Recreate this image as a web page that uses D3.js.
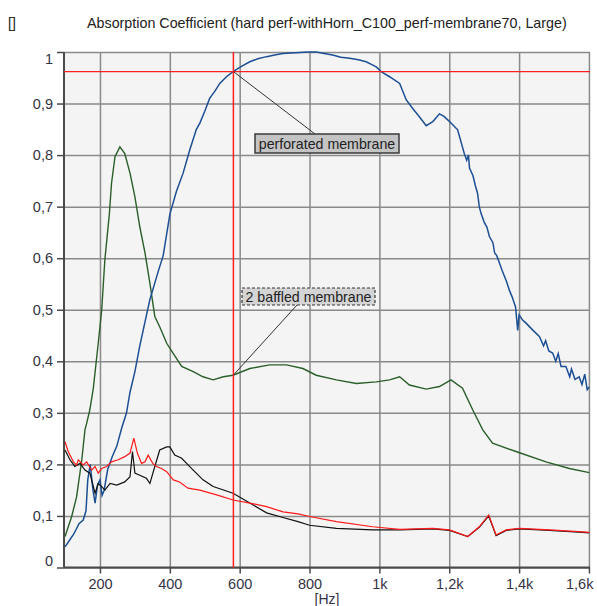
<!DOCTYPE html>
<html>
<head>
<meta charset="utf-8">
<script src="https://cdn.jsdelivr.net/npm/d3@7"></script>
<style>
  body { margin: 0; background: #fff; }
  text { font-family: "Liberation Sans", Arial, sans-serif; }
</style>
</head>
<body>
<script>
// ---- data ----
var xTicks = [200, 400, 600, 800, 1000, 1200, 1400, 1600];
var xTickLabels = ["200", "400", "600", "800", "1k", "1,2k", "1,4k", "1,6k"];
var yTicks = [0, 0.1, 0.2, 0.3, 0.4, 0.5, 0.6, 0.7, 0.8, 0.9, 1];
var yTickLabels = ["0", "0,1", "0,2", "0,3", "0,4", "0,5", "0,6", "0,7", "0,8", "0,9", "1"];

var cursorFreq = 582;
var cursorLevel = 0.962;

var perforated = [
  [100,0.04],[110,0.05],[125,0.065],[140,0.085],[152,0.092],[160,0.11],[165,0.17],
  [172,0.20],[180,0.15],[186,0.125],[193,0.16],[200,0.17],[206,0.14],[212,0.15],
  [222,0.19],[235,0.215],[248,0.235],[262,0.27],[276,0.30],[286,0.34],[300,0.38],
  [314,0.43],[330,0.48],[343,0.52],[367,0.575],[381,0.605],[400,0.685],[419,0.73],
  [438,0.765],[457,0.81],[476,0.85],[486,0.862],[500,0.885],[514,0.91],[530,0.925],
  [543,0.939],[562,0.952],[581,0.962],[605,0.972],[629,0.981],[652,0.987],[677,0.991],
  [700,0.994],[724,0.997],[748,0.998],[772,0.999],[795,1.0],[819,1.0],[842,0.997],
  [866,0.994],[890,0.99],[915,0.988],[940,0.985],[962,0.981],[980,0.975],[991,0.971],
  [1005,0.962],[1029,0.952],[1058,0.939],[1077,0.907],[1096,0.89],[1115,0.874],
  [1134,0.857],[1153,0.865],[1172,0.88],[1185,0.875],[1201,0.865],[1224,0.849],
  [1243,0.803],[1250,0.79],[1255,0.80],[1258,0.775],[1268,0.76],[1275,0.74],
  [1281,0.726],[1286,0.70],[1291,0.687],[1300,0.67],[1308,0.66],[1315,0.642],
  [1325,0.63],[1330,0.61],[1336,0.605],[1344,0.59],[1352,0.575],[1358,0.565],
  [1364,0.555],[1372,0.538],[1380,0.525],[1390,0.505],[1396,0.46],[1400,0.49],
  [1410,0.48],[1420,0.474],[1440,0.46],[1458,0.448],[1470,0.43],[1476,0.44],
  [1485,0.42],[1496,0.416],[1505,0.40],[1512,0.415],[1520,0.39],[1534,0.39],
  [1545,0.37],[1550,0.385],[1560,0.365],[1572,0.37],[1580,0.355],[1588,0.375],
  [1595,0.345],[1601,0.35]
];

var baffled = [
  [100,0.06],[119,0.099],[133,0.137],[148,0.209],[157,0.267],[162,0.28],[171,0.306],
  [181,0.348],[195,0.435],[205,0.5],[214,0.597],[227,0.687],[233,0.745],[243,0.797],
  [257,0.816],[271,0.803],[286,0.765],[300,0.719],[314,0.661],[329,0.61],[343,0.551],
  [357,0.487],[371,0.467],[391,0.435],[410,0.415],[434,0.39],[467,0.38],[495,0.37],
  [524,0.364],[553,0.37],[581,0.373],[629,0.386],[686,0.393],[734,0.393],[781,0.386],
  [819,0.373],[877,0.364],[934,0.357],[991,0.36],[1029,0.364],[1058,0.37],[1086,0.354],
  [1134,0.346],[1172,0.351],[1205,0.364],[1238,0.348],[1267,0.306],[1296,0.267],
  [1324,0.241],[1391,0.225],[1477,0.205],[1544,0.192],[1601,0.184]
];

var blackSeries = [
  [100,0.228],[114,0.209],[128,0.196],[143,0.202],[157,0.189],[171,0.183],[186,0.144],
  [195,0.163],[205,0.157],[214,0.15],[229,0.163],[248,0.16],[271,0.166],[286,0.176],
  [293,0.225],[300,0.183],[314,0.179],[333,0.173],[343,0.163],[357,0.196],[371,0.228],
  [391,0.234],[400,0.234],[414,0.218],[434,0.212],[448,0.202],[467,0.189],[495,0.17],
  [524,0.157],[581,0.144],[629,0.125],[677,0.106],[724,0.097],[767,0.089],[800,0.082],
  [877,0.076],[981,0.073],[1058,0.073],[1153,0.075],[1201,0.072],[1253,0.06],
  [1286,0.078],[1313,0.1],[1334,0.062],[1363,0.072],[1401,0.075],[1487,0.072],
  [1582,0.068],[1601,0.067]
];

var redSeries = [
  [100,0.244],[109,0.225],[124,0.205],[133,0.199],[138,0.209],[152,0.199],[162,0.205],
  [176,0.189],[186,0.196],[195,0.183],[205,0.192],[219,0.196],[233,0.205],[252,0.209],
  [271,0.215],[286,0.222],[297,0.251],[307,0.222],[319,0.202],[329,0.205],[338,0.218],
  [351,0.202],[362,0.196],[376,0.192],[391,0.186],[410,0.17],[428,0.166],[452,0.154],
  [486,0.15],[534,0.141],[581,0.131],[629,0.125],[677,0.118],[724,0.108],[767,0.104],
  [800,0.099],[877,0.089],[981,0.079],[1058,0.074],[1153,0.076],[1201,0.073],
  [1253,0.06],[1286,0.079],[1313,0.102],[1334,0.063],[1363,0.073],[1401,0.076],
  [1487,0.073],[1582,0.069],[1601,0.068]
];

var width = 597,
    height = 606;
var plotLeft = 64, plotRight = 590, plotTop = 52, plotBottom = 567.5;

var svg = d3.select("body").append("svg")
            .attr("width", width)
            .attr("height", height);

var x = d3.scaleLinear().domain([97, 1603]).range([plotLeft, plotRight]);
var y = d3.scaleLinear().domain([0, 1]).range([plotBottom, plotTop]);

// plot background
svg.append("rect")
   .attr("x", plotLeft).attr("y", plotTop)
   .attr("width", plotRight - plotLeft).attr("height", plotBottom - plotTop)
   .attr("fill", "#f4f4f4");

// grid
svg.append("g")
   .attr("transform", "translate(0," + plotBottom + ")")
   .call(d3.axisBottom(x).tickValues(xTicks).tickSize(-(plotBottom - plotTop)).tickFormat(""))
   .call(function(g){ g.select(".domain").remove(); })
   .selectAll("line").attr("stroke", "#8a8a8a").attr("stroke-width", 1.5);

svg.append("g")
   .attr("transform", "translate(" + plotLeft + ",0)")
   .call(d3.axisLeft(y).tickValues(yTicks).tickSize(-(plotRight - plotLeft)).tickFormat(""))
   .call(function(g){ g.select(".domain").remove(); })
   .selectAll("line").attr("stroke", "#8a8a8a").attr("stroke-width", 1.5);

// axes
var xAxis = svg.append("g")
   .attr("transform", "translate(0," + plotBottom + ")")
   .call(d3.axisBottom(x).tickValues(xTicks).tickSize(6).tickPadding(5)
           .tickFormat(function(d, i){ return xTickLabels[i]; }));
xAxis.select(".domain").attr("stroke", "#4a4a4a").attr("stroke-width", 2)
     .attr("d", "M" + plotLeft + ",0H" + plotRight);
xAxis.selectAll("line").attr("stroke", "#4a4a4a").attr("stroke-width", 1.5);
xAxis.selectAll("text").attr("font-size", 14.5).attr("fill", "#333344")
     .attr("font-family", "Liberation Sans, Arial, sans-serif")
     .attr("text-anchor", function(d){ return d === 1600 ? "end" : "middle"; })
     .attr("dx", function(d){ return d === 1600 ? 4 : 0; });

var yAxis = svg.append("g")
   .attr("transform", "translate(" + plotLeft + ",0)")
   .call(d3.axisLeft(y).tickValues(yTicks).tickSize(7).tickPadding(4)
           .tickFormat(function(d, i){ return yTickLabels[i]; }));
yAxis.select(".domain").attr("stroke", "#4a4a4a").attr("stroke-width", 2)
     .attr("d", "M0," + plotTop + "V" + plotBottom);
yAxis.selectAll("line").attr("stroke", "#4a4a4a").attr("stroke-width", 1.5);
yAxis.selectAll("text").attr("font-size", 14.5).attr("fill", "#333344")
     .attr("font-family", "Liberation Sans, Arial, sans-serif")
     .attr("dy", function(d){ return d === 1 ? "0.8em" : d === 0 ? "-0.12em" : "0.32em"; });

// curves
var line = d3.line()
             .x(function(d){ return x(d[0]); })
             .y(function(d){ return y(d[1]); });

svg.append("path").datum(baffled).attr("d", line)
   .attr("fill", "none").attr("stroke", "#2a5f2a").attr("stroke-width", 1.4);
svg.append("path").datum(perforated).attr("d", line)
   .attr("fill", "none").attr("stroke", "#1d4f95").attr("stroke-width", 1.5);
svg.append("path").datum(blackSeries).attr("d", line)
   .attr("fill", "none").attr("stroke", "#111").attr("stroke-width", 1.2);
svg.append("path").datum(redSeries).attr("d", line)
   .attr("fill", "none").attr("stroke", "#ff1a1a").attr("stroke-width", 1.2);

// cursor lines
svg.append("line")
   .attr("x1", x(cursorFreq)).attr("x2", x(cursorFreq))
   .attr("y1", plotTop).attr("y2", plotBottom)
   .attr("stroke", "#ff2020").attr("stroke-width", 1.5);
svg.append("line")
   .attr("x1", plotLeft).attr("x2", plotRight)
   .attr("y1", y(cursorLevel)).attr("y2", y(cursorLevel))
   .attr("stroke", "#ff2020").attr("stroke-width", 1.2);

// annotations
var greenAtCursor = d3.scaleLinear()
    .domain(baffled.map(function(d){ return d[0]; }))
    .range(baffled.map(function(d){ return d[1]; }))(cursorFreq);

svg.append("line")
   .attr("x1", x(cursorFreq)).attr("y1", y(cursorLevel))
   .attr("x2", 315).attr("y2", 134)
   .attr("stroke", "#333").attr("stroke-width", 1);
svg.append("rect")
   .attr("x", 255).attr("y", 134).attr("width", 144).attr("height", 19)
   .attr("fill", "#c4c4c4").attr("stroke", "#3a3a3a").attr("stroke-width", 1.5);
svg.append("text")
   .attr("x", 327).attr("y", 148.5).attr("text-anchor", "middle")
   .attr("font-size", 14.2).attr("fill", "#222")
   .text("perforated membrane");

svg.append("line")
   .attr("x1", x(cursorFreq)).attr("y1", y(greenAtCursor))
   .attr("x2", 297).attr("y2", 305)
   .attr("stroke", "#333").attr("stroke-width", 1);
svg.append("rect")
   .attr("x", 242).attr("y", 288).attr("width", 133).attr("height", 17)
   .attr("fill", "#d4d4d4").attr("stroke", "#333").attr("stroke-width", 1.2)
   .attr("stroke-dasharray", "3,2");
svg.append("text")
   .attr("x", 308.5).attr("y", 301.5).attr("text-anchor", "middle")
   .attr("font-size", 14.2).attr("fill", "#222")
   .text("2 baffled membrane");

// title and labels
svg.append("text")
   .attr("x", 87).attr("y", 28)
   .attr("font-size", 14.3).attr("fill", "#222")
   .text("Absorption Coefficient (hard perf-withHorn_C100_perf-membrane70, Large)");
svg.append("text")
   .attr("x", 8).attr("y", 28)
   .attr("font-size", 14).attr("fill", "#222")
   .text("[]");
svg.append("text")
   .attr("x", (plotLeft + plotRight) / 2).attr("y", 604).attr("text-anchor", "middle")
   .attr("font-size", 14).attr("fill", "#333344")
   .text("[Hz]");
</script>
</body>
</html>
